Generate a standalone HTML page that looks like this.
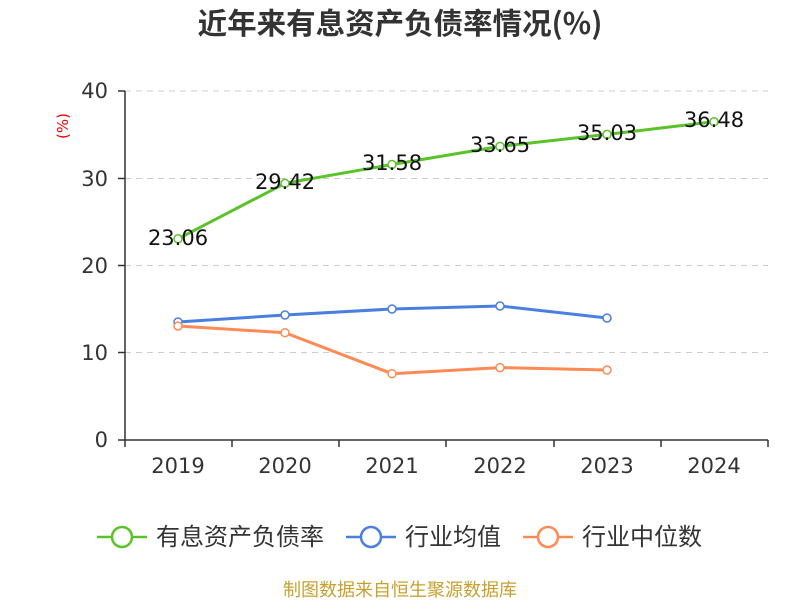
<!DOCTYPE html>
<html><head><meta charset="utf-8"><style>
body{margin:0;background:#fff;}
svg text{font-family:"DejaVu Sans","Noto Sans CJK SC",sans-serif;}
.cjk{font-family:"Noto Sans CJK SC",sans-serif;}
</style></head><body>
<svg width="800" height="600" xmlns="http://www.w3.org/2000/svg">
<rect width="800" height="600" fill="#fff"/>
<text x="400" y="34" text-anchor="middle" font-size="29.5" font-weight="bold" fill="#333" class="cjk">近年来有息资产负债率情况(%)</text>
<text x="68" y="126" font-size="15" fill="#e00" transform="rotate(-90 68 126)" text-anchor="middle">(%)</text>
<g stroke="#ccc" stroke-dasharray="6,5" stroke-width="1">
<line x1="125" y1="91" x2="768" y2="91"/><line x1="125" y1="178.5" x2="768" y2="178.5"/>
<line x1="125" y1="265.5" x2="768" y2="265.5"/><line x1="125" y1="352.5" x2="768" y2="352.5"/>
</g>
<g stroke="#333" stroke-width="1.5">
<line x1="125" y1="91" x2="125" y2="440"/><line x1="118" y1="91" x2="125" y2="91"/><line x1="118" y1="178.5" x2="125" y2="178.5"/><line x1="118" y1="265.5" x2="125" y2="265.5"/><line x1="118" y1="352.5" x2="125" y2="352.5"/><line x1="118" y1="440" x2="125" y2="440"/>
<line x1="125" y1="440" x2="768" y2="440"/>
<line x1="125" y1="440" x2="125" y2="447"/><line x1="232" y1="440" x2="232" y2="447"/><line x1="339" y1="440" x2="339" y2="447"/><line x1="446" y1="440" x2="446" y2="447"/><line x1="554" y1="440" x2="554" y2="447"/><line x1="661" y1="440" x2="661" y2="447"/><line x1="768" y1="440" x2="768" y2="447"/>
</g>
<g font-size="21" fill="#333" text-anchor="end">
<text x="108" y="98">40</text><text x="108" y="186">30</text><text x="108" y="273">20</text><text x="108" y="360">10</text><text x="108" y="447">0</text>
</g>
<g font-size="21" fill="#333" text-anchor="middle">
<text x="178" y="473">2019</text><text x="285" y="473">2020</text><text x="392" y="473">2021</text><text x="500" y="473">2022</text><text x="607" y="473">2023</text><text x="714" y="473">2024</text>
</g>
<polyline fill="none" stroke="#5ac32a" stroke-width="3" points="178,238.8 285,183.3 392,164.5 500,146.4 607,134.4 714,121.7"/>
<polyline fill="none" stroke="#4a7fe0" stroke-width="3" points="178,322 285,315 392,309 500,306 607,318"/>
<polyline fill="none" stroke="#ff8a55" stroke-width="3" points="178,326 285,332.7 392,373.7 500,367.6 607,370"/>
<g fill="#fff" stroke-width="1.5">
<g stroke="#5ac32a"><circle cx="178" cy="238.8" r="4"/><circle cx="285" cy="183.3" r="4"/><circle cx="392" cy="164.5" r="4"/><circle cx="500" cy="146.4" r="4"/><circle cx="607" cy="134.4" r="4"/><circle cx="714" cy="121.7" r="4"/></g>
<g stroke="#4a7fe0"><circle cx="178" cy="322" r="4"/><circle cx="285" cy="315" r="4"/><circle cx="392" cy="309" r="4"/><circle cx="500" cy="306" r="4"/><circle cx="607" cy="318" r="4"/></g>
<g stroke="#ff8a55"><circle cx="178" cy="326" r="4"/><circle cx="285" cy="332.7" r="4"/><circle cx="392" cy="373.7" r="4"/><circle cx="500" cy="367.6" r="4"/><circle cx="607" cy="370" r="4"/></g>
</g>
<g font-size="21" fill="#111" text-anchor="middle">
<text x="178" y="245">23.06</text><text x="285" y="189">29.42</text><text x="392" y="170">31.58</text><text x="500" y="152">33.65</text><text x="607" y="140">35.03</text><text x="714" y="127">36.48</text>
</g>
<g stroke-width="2.5" fill="#fff">
<line x1="97" y1="537" x2="147" y2="537" stroke="#5ac32a"/><circle cx="122" cy="537" r="10" stroke="#5ac32a"/>
<line x1="346" y1="537" x2="396" y2="537" stroke="#4a7fe0"/><circle cx="371" cy="537" r="10" stroke="#4a7fe0"/>
<line x1="523" y1="537" x2="573" y2="537" stroke="#ff8a55"/><circle cx="548" cy="537" r="10" stroke="#ff8a55"/>
</g>
<g font-size="24" fill="#333" class="cjk">
<text x="156" y="545">有息资产负债率</text><text x="405" y="545">行业均值</text><text x="582" y="545">行业中位数</text>
</g>
<text x="400" y="596" text-anchor="middle" font-size="18" fill="#c8a030" class="cjk">制图数据来自恒生聚源数据库</text>
</svg>
</body></html>
